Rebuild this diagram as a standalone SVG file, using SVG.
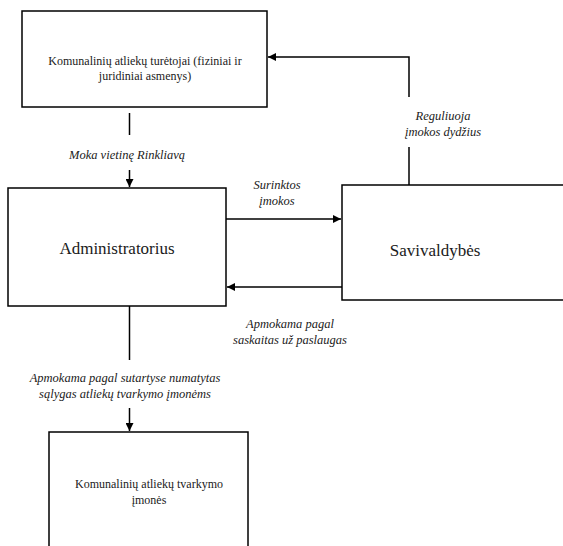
<svg xmlns="http://www.w3.org/2000/svg" width="563" height="546" viewBox="0 0 563 546">
<style>
.box{fill:#fff;stroke:#000;stroke-width:1.5}
.ln{fill:none;stroke:#000;stroke-width:1.5}
.s{font-size:12px}
.b{font-size:17px}
.i{font-size:12.5px;font-style:italic}
</style>
<defs>
<marker id="ah" markerWidth="8" markerHeight="8" refX="8" refY="4" orient="auto" markerUnits="userSpaceOnUse">
<path d="M0,0 L8,4 L0,8 Z" fill="#000"/>
</marker>
</defs>
<rect width="563" height="546" fill="#fff"/>
<g font-family="Liberation Serif, serif" fill="#1a1a1a" text-anchor="middle">
<g id="n-turetojai">
<rect class="box" x="22" y="11" width="245" height="96"/>
<text class="s" x="145" y="65">Komunalinių atliekų turėtojai (fiziniai ir</text>
<text class="s" x="145" y="80">juridiniai asmenys)</text>
</g>
<g id="n-admin">
<rect class="box" x="8" y="188" width="218" height="118"/>
<text class="b" x="117" y="254">Administratorius</text>
</g>
<g id="n-sav">
<rect class="box" x="342" y="185" width="230" height="115"/>
<text class="b" x="435" y="256">Savivaldybės</text>
</g>
<g id="n-imones">
<rect class="box" x="49" y="432" width="199" height="130"/>
<text class="s" x="149" y="488">Komunalinių  atliekų tvarkymo</text>
<text class="s" x="149" y="504">įmonės</text>
</g>
<g id="connectors">
<path class="ln" d="M129.5,113 V135"/>
<path class="ln" d="M129.5,170 V187" marker-end="url(#ah)"/>
<path class="ln" d="M226,219 H341" marker-end="url(#ah)"/>
<path class="ln" d="M342,287 H227" marker-end="url(#ah)"/>
<path class="ln" d="M129.5,306 V360"/>
<path class="ln" d="M129.5,408 V431" marker-end="url(#ah)"/>
<path class="ln" d="M409,185 V147"/>
<path class="ln" d="M409,97 V57 H268" marker-end="url(#ah)"/>
<text class="i" x="127" y="159">Moka vietinę Rinkliavą</text>
<text class="i" x="277" y="189">Surinktos</text>
<text class="i" x="277" y="205">įmokos</text>
<text class="i" x="290" y="328">Apmokama pagal</text>
<text class="i" x="290" y="344">saskaitas už paslaugas</text>
<text class="i" x="125" y="382">Apmokama pagal sutartyse numatytas</text>
<text class="i" x="125" y="398">sąlygas atliekų tvarkymo įmonėms</text>
<text class="i" x="443" y="120">Reguliuoja</text>
<text class="i" x="443" y="136">įmokos dydžius</text>
</g>
</g>
</svg>
